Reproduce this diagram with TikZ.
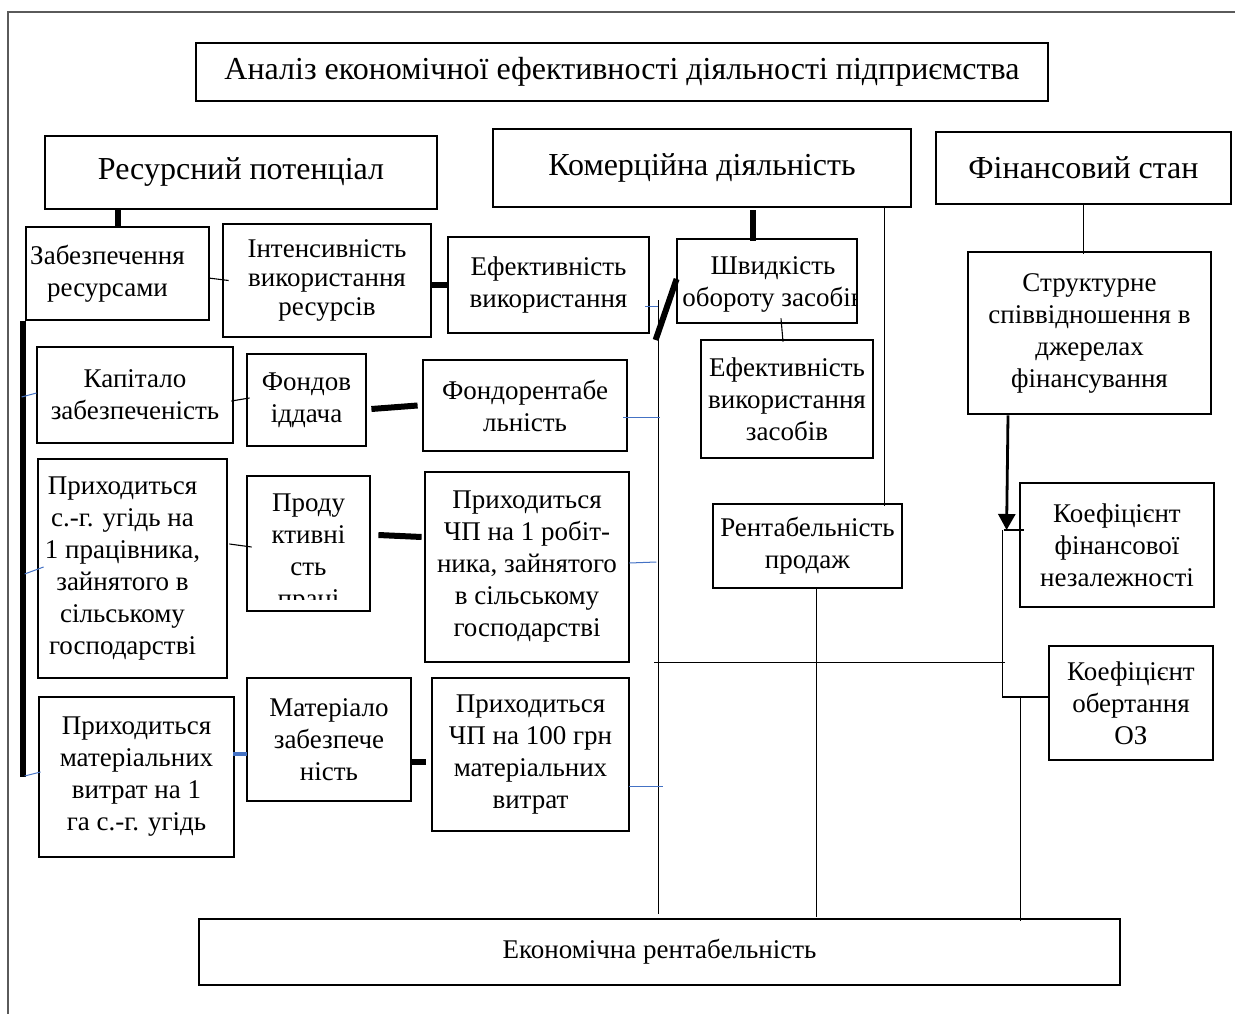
\documentclass[tikz,border=0pt]{standalone}
\usepackage{fontspec}
\setmainfont{Liberation Serif}
\usetikzlibrary{arrows.meta, calc}
\definecolor{cblue}{HTML}{4472C4}
\definecolor{cframe}{HTML}{5A5A5A}
\tikzset{
  box/.style={draw, line width=2.8pt, align=center, inner sep=0pt, font=\fontsize{27}{32}\selectfont},
  hdr/.style={box, font=\fontsize{32}{37}\selectfont},
  txt/.style={align=center, inner sep=0pt, font=\fontsize{27}{32}\selectfont},
  thn/.style={line width=1.1pt},
  thk/.style={line width=6pt},
  blu/.style={draw=cblue, line width=1pt},
  arr/.style={-{Triangle[length=16pt, width=17pt]}, line width=2.8pt},
  frame/.style={draw=cframe, line width=1.5pt},
}

\begin{document}
\begin{tikzpicture}[x=1pt, y=-1pt]
  \useasboundingbox (0,0) rectangle (1235,1014);
  \draw[frame] (8,1030) -- (8,12) -- (1245,12);
  % top rows
  \node[box, font=\fontsize{32}{37}\selectfont, minimum width=852, minimum height=58] (title) at (622,72) {Аналіз економічної ефективності діяльності підприємства};
  \node[hdr, minimum width=392, minimum height=73] (res) at (241,172.5) {Ресурсний потенціал};
  \node[hdr, minimum width=418, minimum height=78] (kom) at (702,168) {Комерційна діяльність};
  \node[hdr, minimum width=295, minimum height=72] (fin) at (1083.5,168) {Фінансовий стан};
  % indicator boxes
  \node[box, minimum width=183, minimum height=93] (zab) at (117.5,273.5) {};
  \node[txt] (zabtext) at ($(zab.center)+(-10,0)$) {Забезпечення\\ресурсами};
  \node[box, minimum width=208, minimum height=113, font=\fontsize{27}{29}\selectfont] (int) at (327,280.5) {Інтенсивність\\використання\\ресурсів};
  \node[box, minimum width=201, minimum height=96] (efv) at (548.5,285) {Ефективність\\використання};
  \node[box, minimum width=180, minimum height=84] (shv) at (767,281) {};
  \node[box, minimum width=172, minimum height=118] (evz) at (787,399) {Ефективність\\використання\\засобів};
  \node[box, minimum width=196, minimum height=96] (kap) at (135,395) {Капітало\\забезпеченість};
  \node[box, minimum width=119, minimum height=92] (fvd) at (306.5,400) {Фондов\\іддача};
  \node[box, minimum width=204, minimum height=91] (frn) at (525,405.5) {Фондорентабе\\льність};
  \node[box, minimum width=243, minimum height=162] (str) at (1089.5,333) {Структурне\\співвідношення в\\джерелах\\фінансування};
  \node[box, minimum width=189, minimum height=219] (pug) at (132.5,568.5) {};
  \node[txt] (pugtext) at ($(pug.center)+(-10,0)$) {Приходиться\\с.-г. угідь на\\1 працівника,\\зайнятого в\\сільському\\господарстві};
  \node[box, minimum width=123, minimum height=135] (prd) at (308.5,543.5) {};
  \node[box, minimum width=204, minimum height=190] (pchp) at (527,567) {Приходиться\\ЧП на 1 робіт-\\ника, зайнятого\\в сільському\\господарстві};
  \node[box, minimum width=189, minimum height=84] (rp) at (807.5,546) {Рентабельність\\продаж};
  \node[box, minimum width=194, minimum height=124] (kfn) at (1117,545) {Коефіцієнт\\фінансової\\незалежності};
  \node[box, minimum width=164, minimum height=114] (kob) at (1131,703) {Коефіцієнт\\обертання\\ОЗ};
  \node[box, minimum width=195, minimum height=160] (pmv) at (136.5,777) {Приходиться\\матеріальних\\витрат на 1\\га с.-г. угідь};
  \node[box, minimum width=164, minimum height=123] (mz) at (329,739.5) {Матеріало\\забезпече\\ність};
  \node[box, minimum width=197, minimum height=153] (pch100) at (530.5,754.5) {Приходиться\\ЧП на 100 грн\\матеріальних\\витрат};
  \node[box, minimum width=921, minimum height=66] (er) at (659.5,952) {Економічна рентабельність};
  % texts cut by their boxes
  \begin{scope}
    \clip (shv.south west) rectangle ($(shv.north east)+(-3,0)$);
    \node[txt] (shvtext) at ($(shv.center)+(6,3)$) {Швидкість\\обороту засобів};
  \end{scope}
  \begin{scope}
    \clip (prd.north west) rectangle ($(prd.south east)+(0,-13)$);
    \node[txt, anchor=north] (prdtext) at ($(prd.north)+(0,19)$) {Проду\\ктивні\\сть\\праці};
  \end{scope}
  % resource links
  \coordinate (sp) at ($(zab.south west)+(-1.5,0)$);
  \draw[thk] (zab.north |- res.south) -- (zab.north);
  \draw[thk] (sp) -- (sp |- pmv.west);
  \draw[blu] ($(kap.west)+(-14,2)$) -- ($(kap.west)+(1,-2)$);
  \draw[blu] ($(pug.west)+(-12,5.5)$) -- ($(pug.west)+(7,-1.5)$);
  \draw[blu] ($(pmv.west)+(-13,-1)$) -- ($(pmv.west)+(3,-5)$);
  \draw[thn] ($(zab.east)+(-2,4.5)$) -- ($(int.west)+(7,0)$);
  \draw[thk] (int.east |- efv.west) -- (efv.west);
  \draw[thn] ($(kap.east)+(-3,6)$) -- ($(fvd.west)+(4,-2)$);
  \draw[thk] ($(fvd.east)+(4,9)$) -- ($(frn.west)+(-4,0)$);
  \draw[thn] ($(pug.east)+(1,-24.5)$) -- ($(prd.west)+(6,3.5)$);
  \draw[thk] ($(prd.east)+(7,-8.5)$) -- ($(pchp.west)+(-2,-30)$);
  \draw[cblue, line width=4pt] ($(pmv.east)+(-2,-23)$) -- ($(mz.west)+(1,14.5)$);
  \draw[thk] ($(mz.east)+(-1,22.5)$) -- ($(pch100.west)+(-5,7.5)$);
  % commercial links
  \coordinate (v1) at ($(efv.east)+(8,15)$);
  \draw[thn] (v1) -- ($(v1 |- er.north)+(0,-4)$);
  \draw[blu] ($(efv.east)+(-5,21)$) -- ($(efv.east)+(8,21)$);
  \draw[blu] ($(frn.east)+(-5,11.5)$) -- ($(frn.east)+(32,11.5)$);
  \draw[blu] ($(pchp.east)+(-1,-4)$) -- ($(pchp.east)+(26,-5)$);
  \draw[blu] ($(pch100.east)+(-1,31.5)$) -- ($(pch100.east)+(33,31.5)$);
  \draw[thk] ($(shv.west)+(1,-2)$) -- ($(shv.west)+(-20,59)$);
  \draw[thk] ($(shv.north |- kom.south)+(-14,2)$) -- ($(shv.north)+(-14,3)$);
  \draw[thn] ($(shv.south)+(14,-6)$) -- ($(evz.north)+(-4,3)$);
  \coordinate (r1) at ($(rp.north east)+(-19,3)$);
  \draw[thn] (r1) -- (r1 |- kom.south);
  \coordinate (r2) at ($(rp.south)+(9,0)$);
  \draw[thn] (r2) -- ($(r2 |- er.north)+(0,-1)$);
  % financial links
  \draw[thn] (fin.south) -- ($(fin.south |- str.north)+(0,3)$);
  \coordinate (tip) at ($(kfn.west)+(-12,-15)$);
  \draw[arr] ($(str.south)+(-81.5,0)$) -- (tip);
  \draw[thn] ($(tip)+(-3,0)$) -- ($(kfn.west)+(5,-15)$);
  \coordinate (jn) at ($(tip)+(-4,0)$);
  \draw[thn] (jn) |- ($(kob.west)+(0,-6)$);
  \draw[thn] ($(v1 |- pchp.south)+(-4,-1)$) -- ($(jn |- pchp.south)+(2,-1)$);
  \coordinate (k1) at ($(kob.west)+(-27,-6)$);
  \draw[thn] (k1) -- ($(k1 |- er.north)+(0,3)$);
\end{tikzpicture}
\end{document}
